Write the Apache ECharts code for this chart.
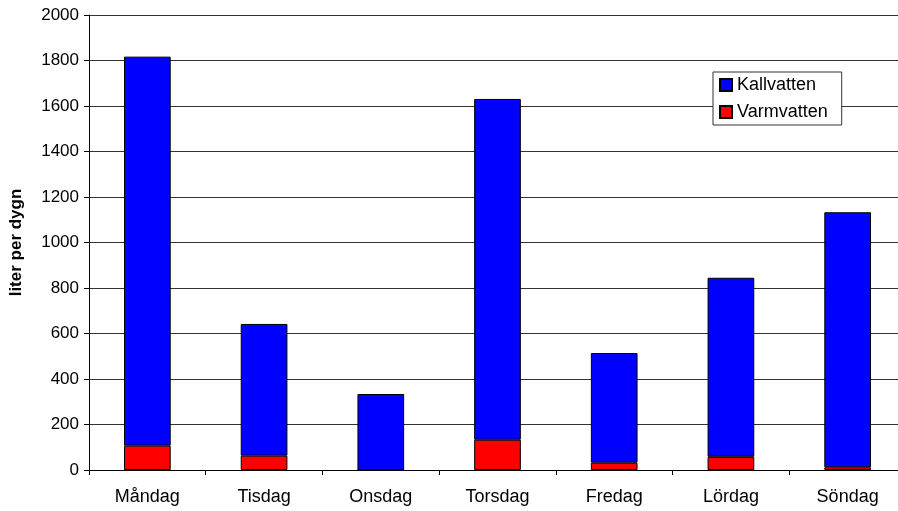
<!DOCTYPE html>
<html>
<head>
<meta charset="utf-8">
<script src="https://cdn.jsdelivr.net/npm/echarts@6/dist/echarts.min.js"></script>
<style>
  html, body { margin: 0; padding: 0; background: #fff; }
  #chart { width: 898px; height: 511px; }
</style>
</head>
<body>
<div id="chart"></div>
<script>
// days of the week
const days = ['Måndag', 'Tisdag', 'Onsdag', 'Torsdag', 'Fredag', 'Lördag', 'Söndag'];
// liter per dygn
const varmvatten = [107, 63, 0, 133, 32, 58, 12];
const kallvatten = [1710, 579, 334, 1498, 482, 787, 1121];

const font = 'Liberation Sans, Arial, sans-serif';

let chart = echarts.init(document.getElementById('chart'));
chart.setOption({
  animation: false,
  textStyle: { fontFamily: font },
  grid: { left: 89, top: 15, bottom: 41, right: -8, containLabel: false, outerBoundsMode: 'none' },
  legend: {
    orient: 'vertical',
    left: 713,
    top: 72,
    data: ['Kallvatten', 'Varmvatten'],
    icon: 'rect',
    itemWidth: 12,
    itemHeight: 12,
    itemGap: 9,
    padding: [4, 14, 4, 6],
    backgroundColor: '#fff',
    borderColor: '#333',
    borderWidth: 1,
    textStyle: { fontSize: 18, color: '#000', fontFamily: font }
  },
  xAxis: {
    type: 'category',
    data: days,
    axisLine: { lineStyle: { color: '#000', width: 1 } },
    axisTick: { show: true, length: 5, lineStyle: { color: '#000' } },
    axisLabel: { fontSize: 18, color: '#000', margin: 18 }
  },
  yAxis: {
    type: 'value',
    min: 0,
    max: 2000,
    interval: 200,
    name: 'liter per dygn',
    nameLocation: 'middle',
    nameGap: 64,
    nameTextStyle: { fontSize: 17, fontWeight: 'bold', color: '#000' },
    axisLine: { show: true, lineStyle: { color: '#000' } },
    axisTick: { show: true, length: 5, lineStyle: { color: '#000' } },
    axisLabel: { fontSize: 17, color: '#000', margin: 10, formatter: (v) => String(v) },
    splitLine: { lineStyle: { color: '#333', width: 1 } }
  },
  series: [
    {
      name: 'Varmvatten',
      type: 'bar',
      stack: 'total',
      data: varmvatten,
      barWidth: '40%',
      itemStyle: { color: '#ff0000', borderColor: '#000', borderWidth: 1 }
    },
    {
      name: 'Kallvatten',
      type: 'bar',
      stack: 'total',
      data: kallvatten,
      barWidth: '40%',
      itemStyle: { color: '#0000ff', borderColor: '#000', borderWidth: 1 }
    }
  ]
});
window.onresize = () => {
  chart.resize();
};
</script>
</body>
</html>
